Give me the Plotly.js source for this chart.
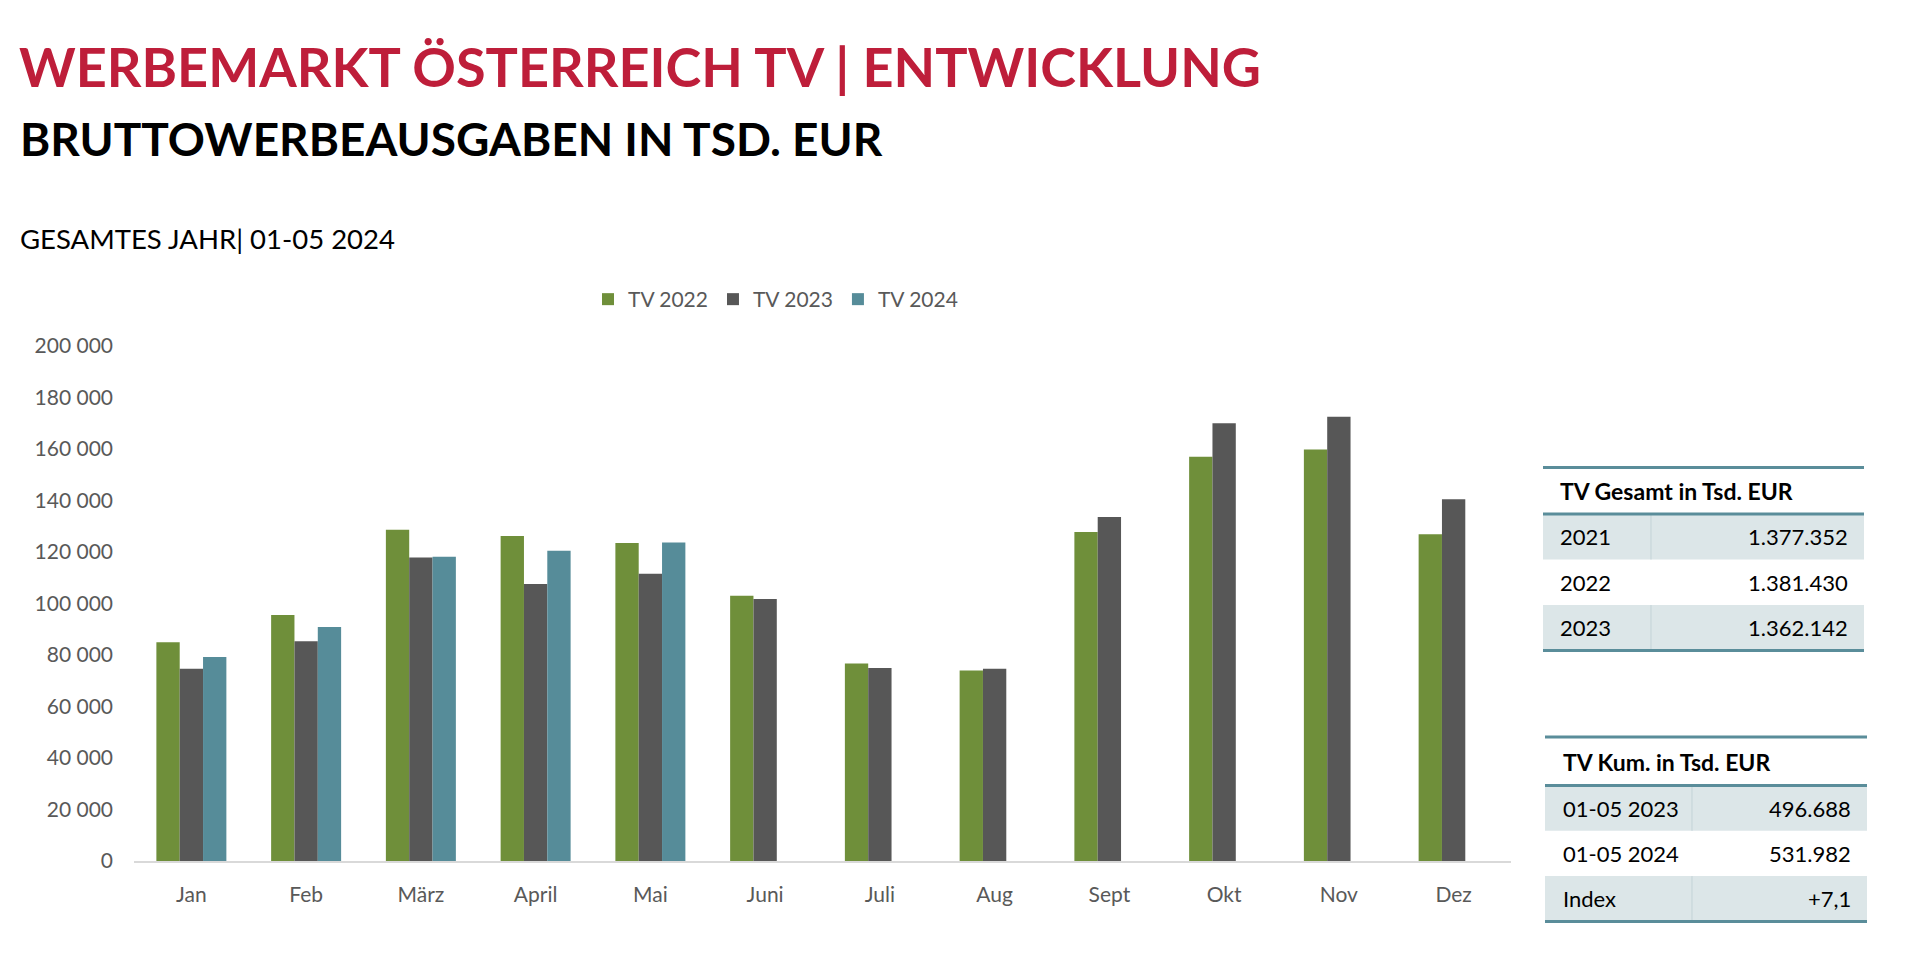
<!DOCTYPE html>
<html>
<head>
<meta charset="utf-8">
<script src="https://cdn.plot.ly/plotly-3.0.1.min.js"></script>
<style>
  html, body { margin: 0; padding: 0; background: #ffffff; }
  #chart { width: 1920px; height: 970px; }
</style>
</head>
<body>
<div id="chart"></div>
<script>
// ---------- data ----------
const months = ['Jan', 'Feb', 'März', 'April', 'Mai', 'Juni', 'Juli', 'Aug', 'Sept', 'Okt', 'Nov', 'Dez'];
const tv2022 = [85000, 95500, 128600, 126200, 123500, 103000, 76700, 74000, 127800, 157000, 159800, 126900];
const tv2023 = [74700, 85300, 117900, 107600, 111600, 101700, 75000, 74700, 133600, 170000, 172500, 140500];
const tv2024 = [79200, 90900, 118200, 120500, 123700, null, null, null, null, null, null, null];
const seriesNames = ['TV 2022', 'TV 2023', 'TV 2024'];

const titleText = 'WERBEMARKT ÖSTERREICH TV | ENTWICKLUNG';
const subtitleText = 'BRUTTOWERBEAUSGABEN IN TSD. EUR';
const periodText = 'GESAMTES JAHR| 01-05 2024';

const gesamtTitle = 'TV Gesamt in Tsd. EUR';
const gesamtLabels = ['2021', '2022', '2023'];
const gesamtValues = ['1.377.352', '1.381.430', '1.362.142'];

const kumTitle = 'TV Kum. in Tsd. EUR';
const kumLabels = ['01-05 2023', '01-05 2024', 'Index'];
const kumValues = ['496.688', '531.982', '+7,1'];

// ---------- styling ----------
const W = 1920, H = 970;
const M = { l: 134, r: 409, t: 346, b: 109 };
const px2x = p => (p - M.l) / (W - M.l - M.r);
const py2y = p => (H - M.b - p) / (H - M.t - M.b);

const FONT = 'Lato, "Open Sans", sans-serif';
const colors = ['#6f8f3a', '#575757', '#568c99'];
const axisGrey = '#595959';
const tableLine = '#5a8d9a';
const tableFill = '#dce6e8';
const dividerColor = '#c3d3d7';

const traces = [tv2022, tv2023, tv2024].map((vals, i) => ({
  type: 'bar',
  name: seriesNames[i],
  x: months,
  y: vals,
  marker: { color: colors[i], line: { width: 0 } },
  hoverinfo: 'x+y+name'
}));

const shapes = [];
const annotations = [];

annotations.push({
  xref: 'paper', yref: 'paper', x: px2x(18), y: py2y(138.7),
  xanchor: 'left', yanchor: 'middle', showarrow: false,
  text: '<b>' + subtitleText + '</b>',
  font: { family: FONT, size: 46, color: '#000000' }
});
annotations.push({
  xref: 'paper', yref: 'paper', x: px2x(18), y: py2y(239),
  xanchor: 'left', yanchor: 'middle', showarrow: false,
  text: periodText,
  font: { family: FONT, size: 27.5, color: '#000000' }
});

function drawTable(g, title, labels, values) {
  shapes.push({ type: 'line', xref: 'paper', yref: 'paper', x0: px2x(g.x0), x1: px2x(g.x1),
    y0: py2y(g.top), y1: py2y(g.top), line: { color: tableLine, width: 3 } });
  annotations.push({ xref: 'paper', yref: 'paper', x: px2x(g.labelX), y: py2y(g.headY),
    xanchor: 'left', yanchor: 'middle', showarrow: false, text: '<b>' + title + '</b>',
    font: { family: FONT, size: 23, color: '#000000' } });
  labels.forEach((lab, i) => {
    const r0 = g.headLine + i * g.rowH, r1 = r0 + g.rowH;
    if (i % 2 === 0) {
      shapes.push({ type: 'rect', xref: 'paper', yref: 'paper', layer: 'below',
        x0: px2x(g.x0), x1: px2x(g.x1), y0: py2y(r0), y1: py2y(r1),
        fillcolor: tableFill, line: { width: 0 } });
      shapes.push({ type: 'line', xref: 'paper', yref: 'paper', layer: 'below',
        x0: px2x(g.divX), x1: px2x(g.divX), y0: py2y(r0), y1: py2y(r1),
        line: { color: dividerColor, width: 1 } });
    }
    const cy = (r0 + r1) / 2;
    annotations.push({ xref: 'paper', yref: 'paper', x: px2x(g.labelX), y: py2y(cy),
      xanchor: 'left', yanchor: 'middle', showarrow: false, text: lab,
      font: { family: FONT, size: 22, color: '#000000' } });
    annotations.push({ xref: 'paper', yref: 'paper', x: px2x(g.valueX), y: py2y(cy),
      xanchor: 'right', yanchor: 'middle', showarrow: false, text: values[i],
      font: { family: FONT, size: 22, color: '#000000' } });
  });
  shapes.push({ type: 'line', xref: 'paper', yref: 'paper', x0: px2x(g.x0), x1: px2x(g.x1),
    y0: py2y(g.headLine), y1: py2y(g.headLine), line: { color: tableLine, width: 3 } });
  const bottom = g.headLine + labels.length * g.rowH;
  shapes.push({ type: 'line', xref: 'paper', yref: 'paper', x0: px2x(g.x0), x1: px2x(g.x1),
    y0: py2y(bottom), y1: py2y(bottom), line: { color: tableLine, width: 3 } });
}

drawTable({ x0: 1543, x1: 1864, top: 467.5, headY: 490.5, headLine: 514, rowH: 45.5,
  divX: 1651, labelX: 1558, valueX: 1850 }, gesamtTitle, gesamtLabels, gesamtValues);
drawTable({ x0: 1545, x1: 1867, top: 737, headY: 762, headLine: 785.5, rowH: 45.3,
  divX: 1692, labelX: 1561, valueX: 1853 }, kumTitle, kumLabels, kumValues);

const layout = {
  width: W, height: H,
  margin: M,
  paper_bgcolor: '#ffffff', plot_bgcolor: '#ffffff',
  separators: ', ',
  font: { family: FONT, color: axisGrey },
  title: {
    text: '<b>' + titleText + '</b>',
    font: { family: FONT, size: 54, color: '#be1e3a' },
    xref: 'container', yref: 'container',
    x: 19 / W, xanchor: 'left',
    y: 1 - 68 / H, yanchor: 'middle',
    pad: { t: 0, b: 0, l: 0, r: 0 }
  },
  barmode: 'group',
  bargap: 0.39,
  bargroupgap: 0,
  showlegend: true,
  legend: {
    orientation: 'h',
    x: px2x(588), xanchor: 'left',
    y: py2y(299.5), yanchor: 'middle',
    font: { family: FONT, size: 21, color: axisGrey },
    bgcolor: 'rgba(0,0,0,0)',
    traceorder: 'normal'
  },
  xaxis: {
    type: 'category',
    showgrid: false,
    showline: true, linecolor: '#d9d9d9', linewidth: 1.5,
    ticks: '', zeroline: false,
    tickfont: { family: FONT, size: 21, color: axisGrey },
    ticklabelstandoff: 14
  },
  yaxis: {
    range: [0, 200000],
    dtick: 20000, tick0: 0,
    tickformat: ',d',
    showgrid: false, zeroline: false, showline: false,
    ticks: '',
    tickfont: { family: FONT, size: 21, color: axisGrey },
    ticklabelstandoff: 20
  },
  shapes: shapes,
  annotations: annotations
};

Plotly.newPlot('chart', traces, layout, { displayModeBar: false, staticPlot: true });
</script>
</body>
</html>
